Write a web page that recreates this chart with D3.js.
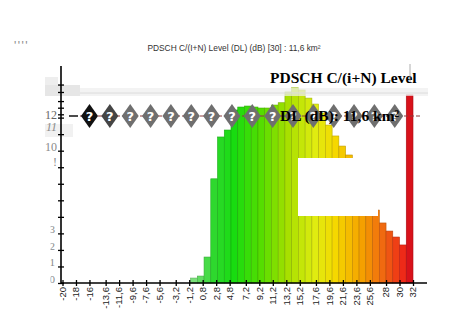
<!DOCTYPE html>
<html>
<head>
<meta charset="utf-8">
<script src="https://cdn.jsdelivr.net/npm/d3@7/dist/d3.min.js"></script>
<style>
  body { margin: 0; background: #fff; }
  svg { display: block; }
</style>
</head>
<body>
<div id="chart"></div>
<script>
// lower edge (dB) of each 1 dB bin
const binStart = [-1, 0, 1, 2, 3, 4, 5, 6, 7, 8, 9, 10, 11, 12, 13, 14, 15,
  16, 17, 18, 19, 20, 21, 22, 23, 24, 25, 26, 27, 28, 29, 30, 31];
// share of area per bin (axis units)
const binValue = [0.3, 0.42, 1.57, 6.3, 8.83, 9.25, 10.46, 10.64, 10.7, 10.64, 10.58, 10.58,
  10.76, 10.9, 11.55, 11.8, 11.67, 11.18, 10.82, 10.28, 9.55, 8.89, 8.28, 7.74,
  6.95, 6.1, 5.26, 4.41, 3.63, 3.14, 2.78, 2.3, 11.37];

const xTickValues = [-20, -18, -16, -13.6, -11.6, -9.6, -7.6, -5.6, -3.2, -1.2, 0.8, 2.8, 4.8,
  7.2, 9.2, 11.2, 13.2, 15.2, 17.6, 19.6, 21.6, 23.6, 25.6, 28, 30, 32];
const yTickValues = [0, 1, 2, 3, 4, 5, 6, 7, 8, 9, 10, 10.2, 10.6, 11, 11.55, 12];
const yLabelText = ['0', '1', '2', '3', '!', '10', '11', '12'];
const yLabelValue = [0, 1, 2, 3, 7.35, 8.22, 9.43, 10.16];

const smallTitle = 'PDSCH C/(I+N) Level (DL) (dB) [30] : 11,6 km\u00b2';
const bigTitle = ['PDSCH C/(i+N) Level', 'DL (dB): 11,6 km\u00b2'];

const width = 462, height = 314;
const svg = d3.select('#chart').append('svg')
  .attr('width', width)
  .attr('height', height);

const x = d3.scaleLinear().domain([-20, 32]).range([62.5, 413]);
const y = d3.scaleLinear().domain([0, 13]).range([283, 68]);

const color = d3.scaleLinear()
  .domain([-1, 2, 5, 9, 13, 17, 20, 24, 27, 30, 31])
  .range(['#7ae07a', '#2ed82e', '#18dc10', '#55dd00', '#a8e000', '#e0ec10',
    '#f5d800', '#f5a000', '#f06a10', '#ee2a18', '#d8121a'])
  .interpolate(d3.interpolateRgb);

const sans = 'Liberation Sans, Arial, sans-serif';
const serif = 'Liberation Serif, Times New Roman, serif';

// top texts
svg.append('text')
  .attr('x', 14).attr('y', 50)
  .attr('font-family', sans)
  .attr('font-size', 12).attr('fill', '#8a8a8a')
  .attr('letter-spacing', 1.5)
  .text("''''");

svg.append('text')
  .attr('x', 234).attr('y', 51)
  .attr('text-anchor', 'middle')
  .attr('font-family', sans)
  .attr('font-size', 8.4).attr('fill', '#333')
  .text(smallTitle);

// grey patches left of the plot
svg.append('rect').attr('x', 45).attr('y', 77).attr('width', 13).attr('height', 10).attr('fill', '#eee');
svg.append('rect').attr('x', 45).attr('y', 85).attr('width', 35).attr('height', 11).attr('fill', '#e6e6e6');
svg.append('rect').attr('x', 45).attr('y', 124).attr('width', 28).attr('height', 13).attr('fill', '#f1f1f1');

// bars
const bars = binStart.map((b, i) => ({ b: b, v: binValue[i] }));
svg.append('g')
  .selectAll('rect')
  .data(bars)
  .enter().append('rect')
  .attr('x', d => x(d.b))
  .attr('y', d => y(d.v))
  .attr('width', d => x(d.b + 1) - x(d.b))
  .attr('height', d => y(0) - y(d.v))
  .attr('fill', d => color(d.b))
  .attr('stroke', d => d3.color(color(d.b)).darker(0.7))
  .attr('stroke-width', 0.6);

// white patch over the bars
svg.append('rect').attr('x', 298).attr('y', 158).attr('width', 80).attr('height', 58).attr('fill', '#fff');

// light band across the top
svg.append('rect').attr('x', 80).attr('y', 88).attr('width', 348).attr('height', 8)
  .attr('fill', '#eeeeee').attr('opacity', 0.72);
svg.append('line').attr('x1', 80).attr('x2', 428).attr('y1', 93).attr('y2', 93)
  .attr('stroke', '#dcdcdc').attr('stroke-width', 1);

// dashed line with markers
svg.append('line').attr('x1', 69).attr('x2', 78).attr('y1', 116).attr('y2', 116)
  .attr('stroke', '#111').attr('stroke-width', 1.5);
svg.append('line').attr('x1', 80).attr('x2', 422).attr('y1', 116).attr('y2', 116)
  .attr('stroke', '#8b3a3a').attr('stroke-width', 1).attr('stroke-dasharray', '4,2');

const markerX = d3.range(16).map(i => 89.5 + i * 20.35);
const markers = svg.append('g').selectAll('g')
  .data(markerX)
  .enter().append('g')
  .attr('transform', d => 'translate(' + d + ',116)');
markers.append('path')
  .attr('d', 'M0,-12L8.5,0L0,12L-8.5,0Z')
  .attr('fill', (d, i) => i === 0 ? '#111' : (i === 1 ? '#454545' : '#6f6f6f'));
markers.append('text')
  .attr('text-anchor', 'middle')
  .attr('y', 5)
  .attr('font-family', 'DejaVu Sans, sans-serif')
  .attr('font-weight', 'bold')
  .attr('font-size', 13)
  .attr('fill', '#fff')
  .text('?');

// overlay title
svg.append('text')
  .attr('x', 270).attr('y', 83)
  .attr('font-family', serif)
  .attr('font-weight', 'bold').attr('font-size', 15.5).attr('fill', '#000')
  .text(bigTitle[0]);
svg.append('text')
  .attr('x', 280).attr('y', 121)
  .attr('font-family', serif)
  .attr('font-weight', 'bold').attr('font-size', 15.5).attr('fill', '#000')
  .text(bigTitle[1]);
svg.append('line').attr('x1', 410).attr('x2', 410).attr('y1', 64).attr('y2', 82)
  .attr('stroke', '#999').attr('stroke-width', 0.8);

// x axis
const xAxis = svg.append('g')
  .attr('transform', 'translate(0,' + y(0) + ')')
  .call(d3.axisBottom(x).tickValues(xTickValues).tickSize(3).tickSizeOuter(0)
    .tickFormat(d => String(d).replace('.', ',')));
xAxis.select('.domain').remove();
xAxis.selectAll('.tick line').attr('y1', -3).attr('stroke', '#000').attr('stroke-width', 1.3);
xAxis.selectAll('.tick text')
  .attr('transform', 'rotate(-90)')
  .attr('text-anchor', 'end')
  .attr('x', -4).attr('y', 0).attr('dy', '0.3em')
  .attr('font-family', sans)
  .attr('font-size', 9.5)
  .attr('fill', '#222');
svg.append('line').attr('x1', 61).attr('x2', 427).attr('y1', y(0)).attr('y2', y(0))
  .attr('stroke', '#000').attr('stroke-width', 1.6);

// y axis
const yAxis = svg.append('g')
  .attr('transform', 'translate(61,0)')
  .call(d3.axisLeft(y).tickValues(yTickValues).tickSize(3).tickSizeOuter(0).tickFormat(''));
yAxis.select('.domain').remove();
yAxis.selectAll('.tick line').attr('x1', 3).attr('stroke', '#000').attr('stroke-width', 1.3);
svg.append('line').attr('x1', 61).attr('x2', 61).attr('y1', 66).attr('y2', 284)
  .attr('stroke', '#000').attr('stroke-width', 1.6);

svg.append('clipPath').attr('id', 'ylab')
  .append('rect').attr('x', 50.5).attr('y', 0).attr('width', 12).attr('height', height);
svg.append('g')
  .selectAll('text')
  .data(yLabelText)
  .enter().append('text')
  .attr('x', (d, i) => i < 4 ? 55 : 57)
  .attr('y', (d, i) => y(yLabelValue[i]) - (i < 4 ? 4 : 0))
  .attr('dy', '0.35em')
  .attr('text-anchor', 'end')
  .attr('clip-path', (d, i) => i < 4 ? 'url(#ylab)' : null)
  .attr('font-family', serif)
  .attr('font-style', (d, i) => i === 6 ? 'italic' : 'normal')
  .attr('font-size', (d, i) => i < 4 ? 11 : 12)
  .attr('fill', (d, i) => i === 7 ? '#666' : '#8a8a8a')
  .text(d => d);
</script>
</body>
</html>
